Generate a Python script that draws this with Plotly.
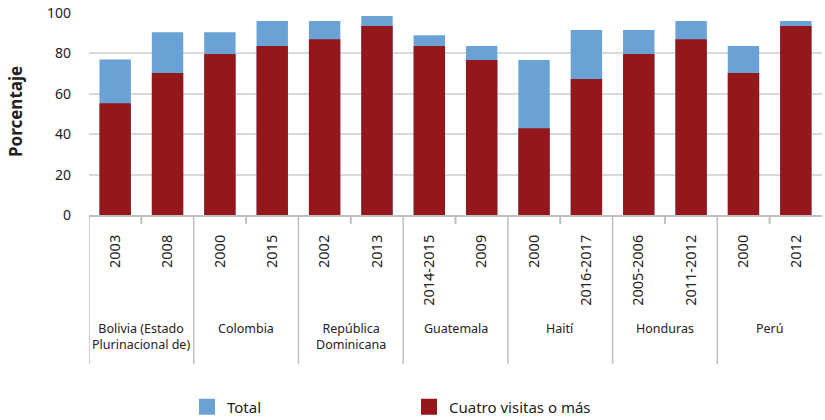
import plotly.graph_objects as go

countries = ["Bolivia (Estado<br>Plurinacional de)", "Colombia", "República<br>Dominicana",
             "Guatemala", "Haití", "Honduras", "Perú"]
years = ["2003", "2008", "2000", "2015", "2002", "2013", "2014-2015", "2009",
         "2000", "2016-2017", "2005-2006", "2011-2012", "2000", "2012"]
bars_per_country = 2
total = [77, 90.5, 90.5, 96, 96, 98.5, 89, 83.7, 76.7, 91.6, 91.6, 96, 83.7, 96]
cuatro = [55.3, 70.3, 79.7, 83.7, 87, 93.6, 83.7, 76.7, 43, 67.3, 79.7, 87, 70.3, 93.6]

BLUE = "#6aa2d6"
RED = "#94171c"
GRID = "#d9d9d9"
AXIS = "#bfbfbf"
FONT = "Noto Sans"
TXT = "#222222"

W, H = 825, 420
YMAX = 100

idx = list(range(len(years)))

fig = go.Figure()
fig.add_trace(go.Bar(x=idx, y=total, marker_color=BLUE, width=0.6, showlegend=False,
                     name="Total", marker_line_width=0))
fig.add_trace(go.Bar(x=idx, y=cuatro, marker_color=RED, width=0.6, showlegend=False,
                     name="Cuatro visitas o más", marker_line_width=0))
# legend proxies
fig.add_trace(go.Scatter(x=[None], y=[None], mode="markers", name="Total",
                         marker=dict(symbol="square", size=20, color=BLUE)))
fig.add_trace(go.Scatter(x=[None], y=[None], mode="markers", name="Cuatro visitas o más",
                         marker=dict(symbol="square", size=20, color=RED)))

plot_h = 202.0
def py(pix):
    return (215 - pix) / plot_h

shapes = []
annotations = []
n = len(countries)
for g in range(n):
    left = g * bars_per_country - 0.5
    shapes.append(dict(type="line", xref="x", yref="paper", x0=left, x1=left,
                       y0=0, y1=py(364), line=dict(color=AXIS, width=1.5)))
    mid = g * bars_per_country + 0.5
    shapes.append(dict(type="line", xref="x", yref="paper", x0=mid, x1=mid,
                       y0=0, y1=py(224), line=dict(color=AXIS, width=2)))
    annotations.append(dict(x=g * bars_per_country + 0.5, xref="x", y=py(318), yref="paper",
                            text=countries[g], showarrow=False, yanchor="top",
                            xanchor="center",
                            font=dict(family=FONT, size=12.5, color=TXT),
                            align="center"))

annotations.append(dict(x=(15 - 89) / 733.0, xref="paper", y=py(112), yref="paper",
                        text="<b>Porcentaje</b>", textangle=-90, showarrow=False,
                        xanchor="center", yanchor="middle",
                        font=dict(family=FONT, size=17, color=TXT)))

fig.update_layout(
    width=W, height=H,
    margin=dict(l=89, r=3, t=13, b=205, autoexpand=False),
    barmode="overlay",
    plot_bgcolor="white", paper_bgcolor="white",
    font=dict(family=FONT, color=TXT),
    shapes=shapes, annotations=annotations,
    legend=dict(orientation="h", x=(187 - 89) / 733.0, xanchor="left",
                y=py(407), yanchor="middle", entrywidth=177, entrywidthmode="pixels",
                font=dict(family=FONT, size=15, color=TXT),
                itemsizing="trace", traceorder="normal", bgcolor="rgba(0,0,0,0)"),
    xaxis=dict(tickmode="array", tickvals=idx, ticktext=years, tickangle=-90,
               range=[-0.5, len(years) - 0.5], showgrid=False, zeroline=False,
               showline=True, linecolor=AXIS, linewidth=2, ticks="",
               ticklabelstandoff=12,
               tickfont=dict(family=FONT, size=14.5, color=TXT)),
    yaxis=dict(range=[0, YMAX], tickvals=[0, 20, 40, 60, 80, 100], showgrid=True,
               gridcolor=GRID, gridwidth=1.5, zeroline=False, showline=False,
               ticks="", ticklabelstandoff=17,
               tickfont=dict(family=FONT, size=14, color=TXT)),
)

fig.write_html("out.html", config={"displayModeBar": False},
               post_script="document.body.style.margin='0';")
